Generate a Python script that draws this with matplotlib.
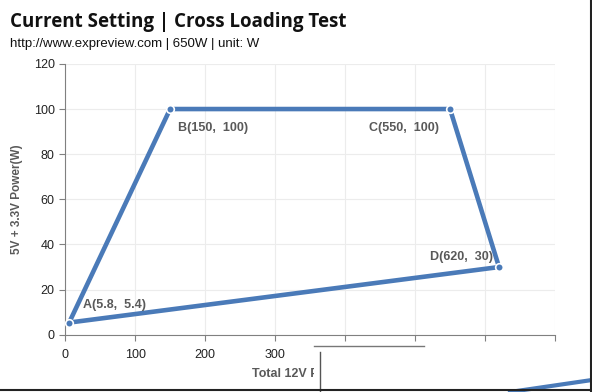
## Cross loading test chart (650W PSU)
import matplotlib
matplotlib.use('Agg')
import matplotlib.pyplot as plt
from matplotlib.patches import Rectangle
from matplotlib.lines import Line2D

## DATA
labels = ['A', 'B', 'C', 'D']
x_12v = [5.8, 150, 550, 620]
y_5v = [5.4, 100, 100, 30]
x_ticks = [0, 100, 200, 300, 400, 500, 600, 700]
y_ticks = [0, 20, 40, 60, 80, 100, 120]

line_col = '#4a7ab8'
txt_col = '#595959'

fig = plt.figure(figsize=(5.92, 3.92), dpi=100)
ax = fig.add_axes([0.11, 0.146, 0.8275, 0.691])

# closed polygon A-B-C-D-A
xs = x_12v + [x_12v[0]]
ys = y_5v + [y_5v[0]]
ax.plot(xs, ys, color=line_col, lw=3.3, solid_capstyle='round', zorder=3)
ax.plot(x_12v, y_5v, 'o', ms=5.5, mfc=line_col, mec='white', mew=1.2, zorder=4)

# point labels
offsets = {'A': (10, 8, 'left', 'bottom'), 'B': (6, -9, 'left', 'top'),
           'C': (-8, -9, 'right', 'top'), 'D': (-4, 3, 'right', 'bottom')}
for lab, x, y in zip(labels, x_12v, y_5v):
    dx, dy, ha, va = offsets[lab]
    ax.annotate('%s(%g,  %g)' % (lab, x, y), (x, y), xytext=(dx, dy),
                textcoords='offset points', ha=ha, va=va,
                fontsize=9, fontweight='bold', color=txt_col,
                family='Liberation Sans')

ax.set_xlim(0, 700)
ax.set_ylim(0, 120)
ax.set_xticks(x_ticks)
ax.set_yticks(y_ticks)
ax.grid(True, color='#ececec', lw=0.8)
ax.set_axisbelow(True)
for s in ['top', 'right']:
    ax.spines[s].set_visible(False)
for s in ['left', 'bottom']:
    ax.spines[s].set_color('#808080')
ax.tick_params(colors='#808080', labelcolor='#222222', labelsize=9, length=4)
ax.tick_params(axis='x', pad=6)
for t in ax.get_xticklabels() + ax.get_yticklabels():
    t.set_family('Liberation Sans')

ax.set_xlabel('Total 12V Power(W)', fontsize=9, fontweight='bold',
              color=txt_col, family='Liberation Sans', labelpad=5)
ax.set_ylabel('5V + 3.3V Power(W)', fontsize=8.5, fontweight='bold',
              color=txt_col, family='Liberation Sans', labelpad=8)

# titles
fig.text(0.017, 0.945, 'Current Setting | Cross Loading Test', fontsize=13.5,
         fontweight='bold', color='#111111', family='Open Sans', va='center')
fig.text(0.017, 0.888, 'http://www.expreview.com | 650W | unit: W', fontsize=9.5,
         color='#111111', family='Liberation Sans', va='center')

# overlapping screenshot piece in the lower right corner
fig.patches.append(Rectangle((314 / 592, 0), 1, 49 / 392, transform=fig.transFigure,
                             facecolor='white', edgecolor='none', zorder=5))
fig.lines.append(Line2D([314 / 592, 424 / 592], [46 / 392, 46 / 392],
                        transform=fig.transFigure, color='#777777', lw=1, zorder=6))
fig.lines.append(Line2D([320 / 592, 320 / 592], [0, 40 / 392],
                        transform=fig.transFigure, color='#555555', lw=1, zorder=6))
fig.lines.append(Line2D([510 / 592, 1], [0, 12 / 392],
                        transform=fig.transFigure, color=line_col, lw=3, zorder=6))
# dark frame on right and bottom
fig.lines.append(Line2D([0.998, 0.998], [0, 1], transform=fig.transFigure,
                        color='#222222', lw=1.5, zorder=7))
fig.lines.append(Line2D([0, 1], [0.004, 0.004], transform=fig.transFigure,
                        color='#222222', lw=1.5, zorder=7))

fig.savefig('out.png', dpi=100)
